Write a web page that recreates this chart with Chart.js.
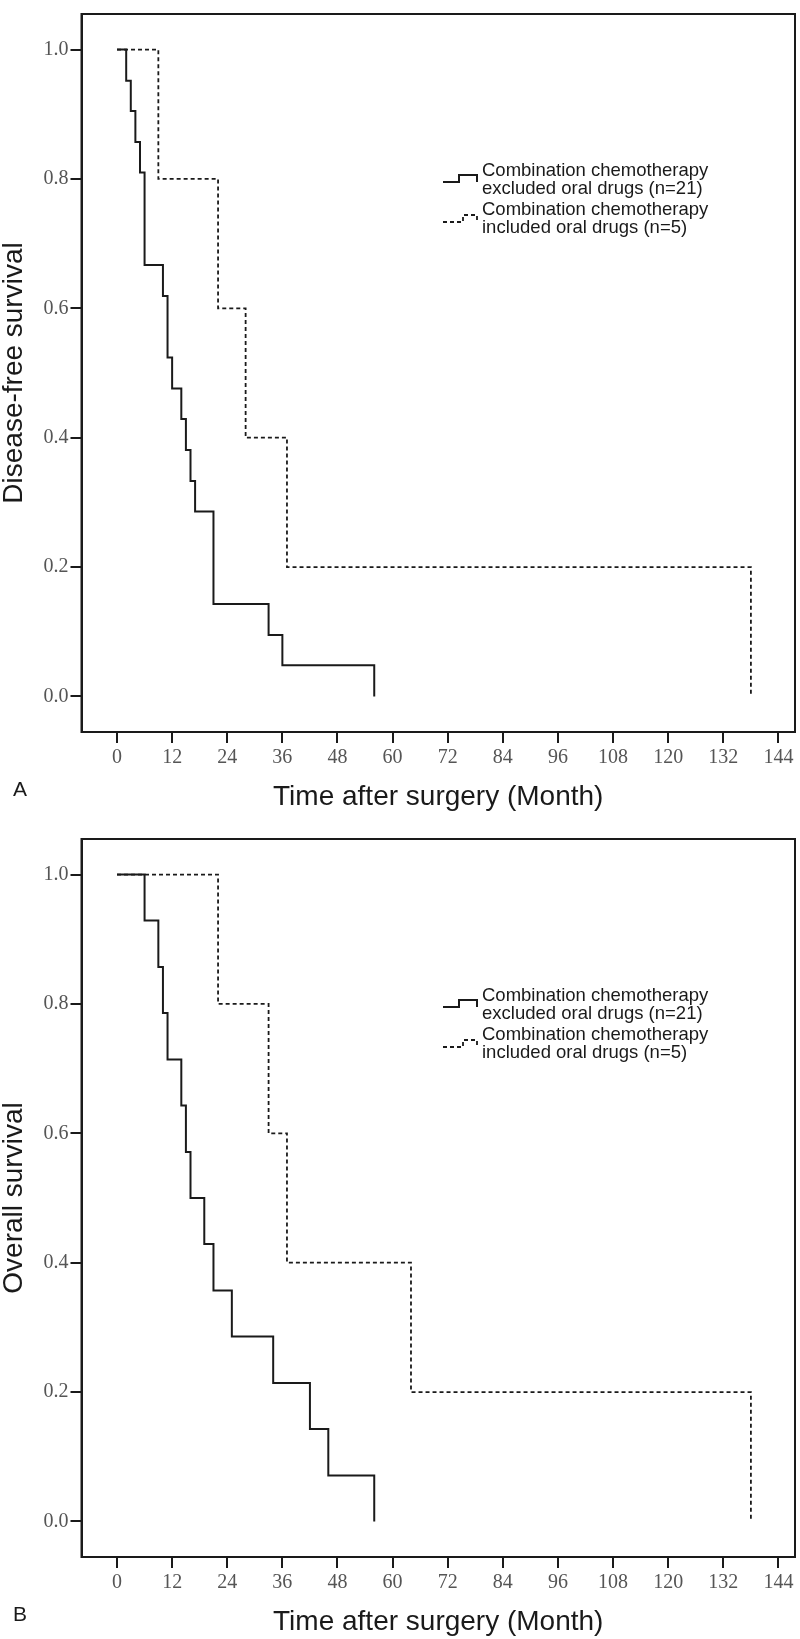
<!DOCTYPE html>
<html>
<head>
<meta charset="utf-8">
<script src="https://cdn.jsdelivr.net/npm/chart.js@4/dist/chart.umd.min.js"></script>
<style>
  html, body { margin: 0; padding: 0; background: #fff; overflow: hidden; }
  .wrap { position: absolute; left: 0; width: 800px; height: 820px; }
  canvas { display: block; }
</style>
</head>
<body>
<div class="wrap" style="top:0"><canvas id="c1" width="800" height="820"></canvas></div>
<div class="wrap" style="top:825px"><canvas id="c2" width="800" height="820"></canvas></div>
<script>
// ---- Data ----
const xTickValues = [0, 12, 24, 36, 48, 60, 72, 84, 96, 108, 120, 132, 144];
const yTickValues = [0, 0.2, 0.4, 0.6, 0.8, 1.0];

const seriesLabels = [
  ["Combination chemotherapy", "excluded oral drugs (n=21)"],
  ["Combination chemotherapy", "included oral drugs (n=5)"]
];

// Panel A: Disease-free survival
const dfsExclTime = [0, 2, 3, 4, 5, 6, 10, 11, 12, 14, 15, 16, 17, 21, 33, 36, 56];
const dfsExclSurv = [1, 0.952, 0.905, 0.857, 0.810, 0.667, 0.619, 0.524, 0.476, 0.429, 0.381, 0.333, 0.286, 0.143, 0.095, 0.048, 0];
const dfsInclTime = [0, 9, 22, 28, 37, 138];
const dfsInclSurv = [1, 0.8, 0.6, 0.4, 0.2, 0];

// Panel B: Overall survival
const osExclTime = [0, 6, 9, 10, 11, 14, 15, 16, 19, 21, 25, 34, 42, 46, 56];
const osExclSurv = [1, 0.929, 0.857, 0.786, 0.714, 0.643, 0.571, 0.5, 0.429, 0.357, 0.286, 0.214, 0.143, 0.071, 0];
const osInclTime = [0, 22, 33, 37, 64, 138];
const osInclSurv = [1, 0.8, 0.6, 0.4, 0.2, 0];

const xTitle = "Time after surgery (Month)";

// ---- helpers ----
const SANS = "'Liberation Sans', Arial, sans-serif";
const SERIF = "'Liberation Serif', 'Times New Roman', serif";
const INK = '#1a1a1a';

function pts(t, s) { return t.map((v, i) => ({ x: v, y: s[i] })); }

function decorPlugin(yTitle, panelLetter) {
  return {
    id: 'decor',
    afterDraw(chart) {
      const ctx = chart.ctx;
      const a = chart.chartArea;
      ctx.save();
      // frame
      ctx.strokeStyle = INK;
      ctx.lineWidth = 2;
      ctx.setLineDash([]);
      ctx.strokeRect(a.left, a.top, a.right - a.left, a.bottom - a.top);

      // legend
      ctx.fillStyle = INK;
      ctx.font = "18.5px " + SANS;
      ctx.textAlign = 'left';
      ctx.textBaseline = 'middle';
      const tx = 482;
      const base = a.top;
      const lines = [157, 175, 196, 214];
      ctx.fillText(seriesLabels[0][0], tx, base + lines[0]);
      ctx.fillText(seriesLabels[0][1], tx, base + lines[1]);
      ctx.fillText(seriesLabels[1][0], tx, base + lines[2]);
      ctx.fillText(seriesLabels[1][1], tx, base + lines[3]);

      // legend symbols
      ctx.lineWidth = 2;
      ctx.beginPath();
      ctx.moveTo(443, base + 168); ctx.lineTo(459, base + 168); ctx.lineTo(459, base + 161);
      ctx.lineTo(477, base + 161); ctx.lineTo(477, base + 168);
      ctx.stroke();
      ctx.lineWidth = 1.8;
      ctx.setLineDash([4, 3]);
      ctx.beginPath();
      ctx.moveTo(443, base + 208); ctx.lineTo(463, base + 208); ctx.lineTo(463, base + 201);
      ctx.lineTo(477, base + 201); ctx.lineTo(477, base + 208);
      ctx.stroke();
      ctx.setLineDash([]);

      // x title
      ctx.font = "28px " + SANS;
      ctx.textAlign = 'center';
      ctx.textBaseline = 'middle';
      ctx.fillText(xTitle, (a.left + a.right) / 2, 797);

      // y title
      ctx.save();
      ctx.translate(14, (a.top + a.bottom) / 2);
      ctx.rotate(-Math.PI / 2);
      ctx.fillText(yTitle, 0, 0);
      ctx.restore();

      // panel letter
      ctx.font = "21px " + SANS;
      ctx.textAlign = 'center';
      ctx.fillText(panelLetter, 20, 790);
      ctx.restore();
    }
  };
}

function makeChart(id, exclT, exclS, inclT, inclS, yTitle, letter) {
  return new Chart(document.getElementById(id), {
    type: 'line',
    data: {
      datasets: [
        {
          label: seriesLabels[0].join(' '),
          data: pts(exclT, exclS),
          stepped: 'before',
          borderColor: INK,
          borderWidth: 2,
          pointRadius: 0,
          fill: false
        },
        {
          label: seriesLabels[1].join(' '),
          data: pts(inclT, inclS),
          stepped: 'before',
          borderColor: INK,
          borderWidth: 1.8,
          borderDash: [4, 3],
          pointRadius: 0,
          fill: false
        }
      ]
    },
    options: {
      responsive: false,
      animation: false,
      devicePixelRatio: 1,
      layout: { padding: { top: 3, right: 5, left: 0, bottom: 0 } },
      plugins: { legend: { display: false }, tooltip: { enabled: false }, title: { display: false } },
      scales: {
        x: {
          type: 'linear',
          min: -7.73,
          max: 147.6,
          afterBuildTicks: s => { s.ticks = xTickValues.map(v => ({ value: v })); },
          afterFit: s => { s.height = 88; },
          grid: { display: true, drawOnChartArea: false, drawTicks: true, tickLength: 11, color: INK, lineWidth: 2 },
          border: { display: true, color: INK, width: 2 },
          ticks: { color: '#555', font: { family: SERIF, size: 20 }, padding: 3, maxRotation: 0, autoSkip: false,
                   callback: v => String(v) }
        },
        y: {
          type: 'linear',
          min: -0.055,
          max: 1.055,
          afterBuildTicks: s => { s.ticks = yTickValues.map(v => ({ value: v })); },
          afterFit: s => { s.width = 81.5; },
          grid: { display: true, drawOnChartArea: false, drawTicks: true, tickLength: 11, color: INK, lineWidth: 2 },
          border: { display: true, color: INK, width: 2 },
          ticks: { color: '#555', font: { family: SERIF, size: 20 }, padding: 2, autoSkip: false,
                   callback: v => Number(v).toFixed(1) }
        }
      }
    },
    plugins: [decorPlugin(yTitle, letter)]
  });
}

makeChart('c1', dfsExclTime, dfsExclSurv, dfsInclTime, dfsInclSurv, "Disease-free survival", "A");
makeChart('c2', osExclTime, osExclSurv, osInclTime, osInclSurv, "Overall survival", "B");
</script>
</body>
</html>
